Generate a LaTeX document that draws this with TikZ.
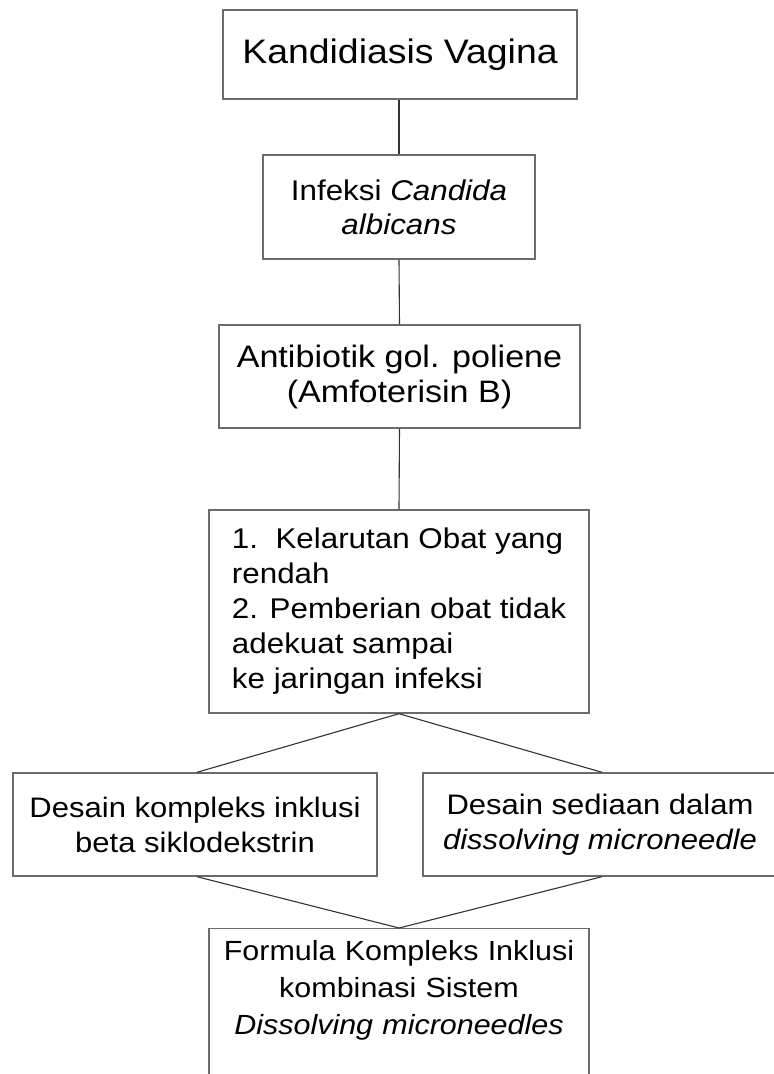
\documentclass[tikz,border=0pt]{standalone}
\usepackage{fontspec}
\setmainfont{Liberation Sans}[FakeStretch=1.1]
\definecolor{boxgray}{gray}{0.42}
\definecolor{linegray}{gray}{0.2}
\begin{document}
\begin{tikzpicture}[x=1bp,y=-1bp,
  flowbox/.style={draw=boxgray, line width=1.4bp, inner sep=0pt, align=center},
  conn/.style={draw=linegray, line width=1.1bp}]
\useasboundingbox (0,0) rectangle (774,1074);
\clip (0,0) rectangle (774,1074);
\fill[white] (0,0) rectangle (774,1074);

\node[flowbox, minimum width=354bp, minimum height=89bp,
      font=\fontsize{34bp}{40bp}\selectfont] (b1) at (400,54.5) {Kandidiasis Vagina};

\node[flowbox, minimum width=272bp, minimum height=104bp,
      font=\fontsize{28.5bp}{34bp}\selectfont] (b2) at (399,207)
      {Infeksi \textit{Candida}\\\textit{albicans}};

\node[flowbox, minimum width=361bp, minimum height=103bp,
      font=\fontsize{31bp}{35bp}\selectfont] (b3) at (399.5,376.5)
      {Antibiotik gol. poliene\\(Amfoterisin B)};

\node[flowbox, align=left, minimum width=380bp, minimum height=203bp,
      font=\fontsize{28.5bp}{35bp}\selectfont] (b4) at (399,611.5)
      {1.\ \ Kelarutan Obat yang\\rendah\\2. Pemberian obat tidak\\adekuat sampai\\ke jaringan infeksi};

\node[flowbox, minimum width=364bp, minimum height=103bp,
      font=\fontsize{28.2bp}{35bp}\selectfont] (b5) at (195,824.5)
      {Desain kompleks inklusi\\beta siklodekstrin};

\node[flowbox, minimum width=354bp, minimum height=103bp,
      font=\fontsize{28.2bp}{35bp}\selectfont] (b6) at (600,824.5)
      {Desain sediaan dalam\\\textit{dissolving microneedle}};

\node[flowbox, anchor=north, text width=360bp, inner xsep=10bp, inner ysep=12bp,
      text depth=120bp, font=\fontsize{27.7bp}{37bp}\selectfont] (b7) at (399,928)
      {Formula Kompleks Inklusi\\kombinasi Sistem\\\textit{Dissolving microneedles}};

\draw[conn] (b1.south -| b2.north) -- (b2.north);
\draw[conn] (b2.south) -- (b3.south |- b3.north);
\draw[conn] (b3.south) -- (b4.north);
\draw[conn] (b4.south) -- ([xshift=2bp]b5.north);
\draw[conn] (b4.south) -- ([xshift=2bp]b6.north);
\draw[conn] ([xshift=2bp]b5.south) -- (b7.north);
\draw[conn] ([xshift=2bp]b6.south) -- (b7.north);
\end{tikzpicture}
\end{document}
